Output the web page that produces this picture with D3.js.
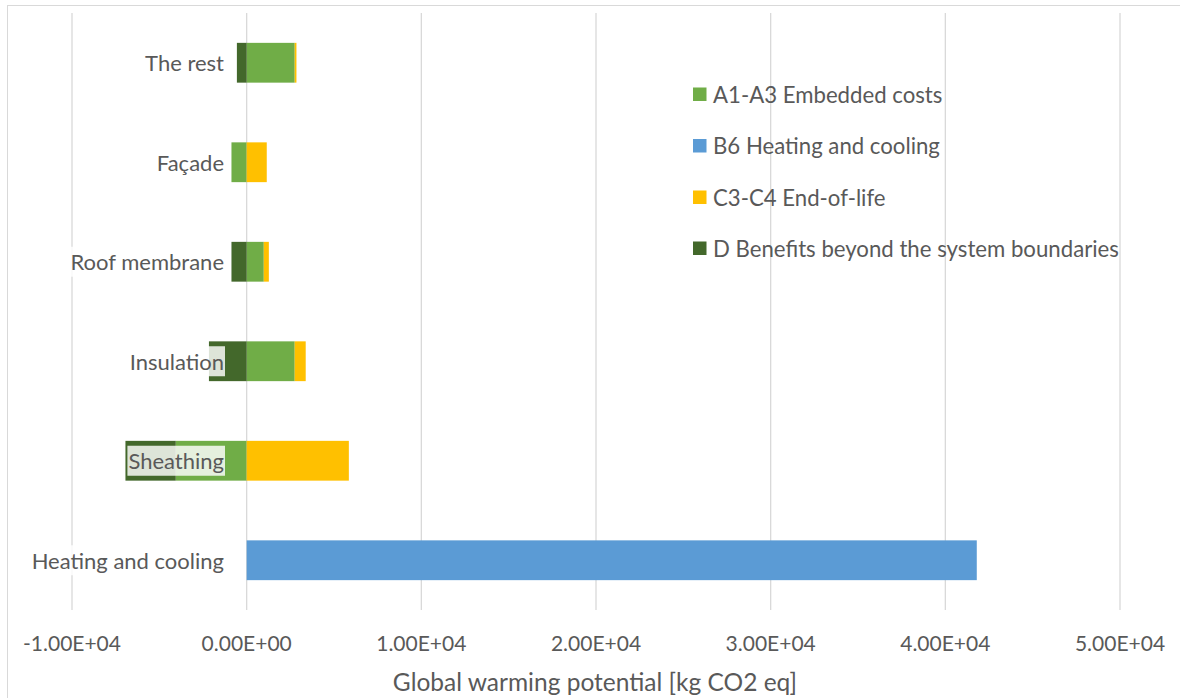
<!DOCTYPE html>
<html>
<head>
<meta charset="utf-8">
<script src="https://cdn.jsdelivr.net/npm/d3@7"></script>
<style>
  html, body { margin: 0; padding: 0; background: #fff; }
  svg { display: block; }
  text { font-family: Lato, "Open Sans", sans-serif; fill: #595959; }
</style>
</head>
<body>
<svg id="chart" width="1180" height="698"></svg>
<script>
// Building components, top to bottom
const categories = ["The rest", "Façade", "Roof membrane", "Insulation", "Sheathing", "Heating and cooling"];

// Life-cycle stage values, kg CO2 eq
const seriesNames = ["A1-A3 Embedded costs", "B6 Heating and cooling", "C3-C4 End-of-life", "D Benefits beyond the system boundaries"];
const a1a3 = [2750, -870, 980, 2750, -4060, 0];
const b6 = [0, 0, 0, 0, 0, 41800];
const c3c4 = [100, 1150, 290, 630, 5850, 0];
const dBenefits = [-560, 0, -870, -2160, -2880, 0];

const tickValues = [-10000, 0, 10000, 20000, 30000, 40000, 50000];
const tickLabels = ["-1.00E+04", "0.00E+00", "1.00E+04", "2.00E+04", "3.00E+04", "4.00E+04", "5.00E+04"];
const axisTitle = "Global warming potential [kg CO2 eq]";

const colors = ["#70AD47", "#5B9BD5", "#FFC000", "#43682B"];

const svg = d3.select("#chart");
const W = 1180, H = 698;

// chart frame
svg.append("rect")
  .attr("x", 7.5).attr("y", 5.5)
  .attr("width", W).attr("height", H)
  .attr("fill", "#fff").attr("stroke", "#d9d9d9").attr("stroke-width", 1);

const plot = { left: 72, right: 1120, top: 13, bottom: 610 };

const x = d3.scaleLinear().domain([-10000, 50000]).range([plot.left, plot.right]);
const y = d3.scaleBand().domain(categories).range([plot.top, plot.bottom])
  .paddingInner(0.6).paddingOuter(0.3);

// gridlines
svg.append("g")
  .selectAll("line")
  .data(tickValues)
  .join("line")
  .attr("x1", d => x(d)).attr("x2", d => x(d))
  .attr("y1", plot.top).attr("y2", plot.bottom)
  .attr("stroke", "#d9d9d9").attr("stroke-width", 1.3);

// stacked bars with diverging offset
const table = categories.map((c, i) => ({
  cat: c,
  [seriesNames[0]]: a1a3[i],
  [seriesNames[1]]: b6[i],
  [seriesNames[2]]: c3c4[i],
  [seriesNames[3]]: dBenefits[i]
}));
const stacked = d3.stack().keys(seriesNames).offset(d3.stackOffsetDiverging)(table);

svg.append("g")
  .selectAll("g")
  .data(stacked)
  .join("g")
  .attr("fill", (d, i) => colors[i])
  .selectAll("rect")
  .data(d => d.filter(s => s[1] - s[0] !== 0))
  .join("rect")
  .attr("x", d => x(Math.min(d[0], d[1])))
  .attr("width", d => Math.abs(x(d[1]) - x(d[0])))
  .attr("y", d => y(d.data.cat))
  .attr("height", y.bandwidth());

// category labels with semi-opaque white backing
const labelX = 224;
const labels = svg.append("g");
categories.forEach(c => {
  const g = labels.append("g");
  const t = g.append("text")
    .attr("x", labelX)
    .attr("y", y(c) + y.bandwidth() / 2)
    .attr("text-anchor", "end")
    .attr("dominant-baseline", "central")
    .attr("font-size", 22)
    .text(c);
  const bb = t.node().getBBox();
  g.insert("rect", "text")
    .attr("x", bb.x - 1).attr("y", y(c) + y.bandwidth() / 2 - 15)
    .attr("width", bb.width + 2).attr("height", 30)
    .attr("fill", "#fff").attr("fill-opacity", 0.82);
});

// x tick labels
svg.append("g")
  .selectAll("text")
  .data(tickValues)
  .join("text")
  .attr("x", d => x(d))
  .attr("y", 642)
  .attr("text-anchor", "middle")
  .attr("dominant-baseline", "central")
  .attr("font-size", 21)
  .text((d, i) => tickLabels[i]);

// axis title
svg.append("text")
  .attr("x", 595).attr("y", 681)
  .attr("text-anchor", "middle")
  .attr("dominant-baseline", "central")
  .attr("font-size", 24.5)
  .text(axisTitle);

// legend
const legend = svg.append("g").attr("transform", "translate(693,0)");
const legendY = [94, 145.5, 197, 248];
seriesNames.forEach((name, i) => {
  legend.append("rect")
    .attr("x", 0).attr("y", legendY[i] - 6.5)
    .attr("width", 13.5).attr("height", 13.5)
    .attr("fill", colors[i]);
  legend.append("text")
    .attr("x", 20).attr("y", legendY[i])
    .attr("dominant-baseline", "central")
    .attr("font-size", 22.2)
    .text(name);
});
</script>
</body>
</html>
